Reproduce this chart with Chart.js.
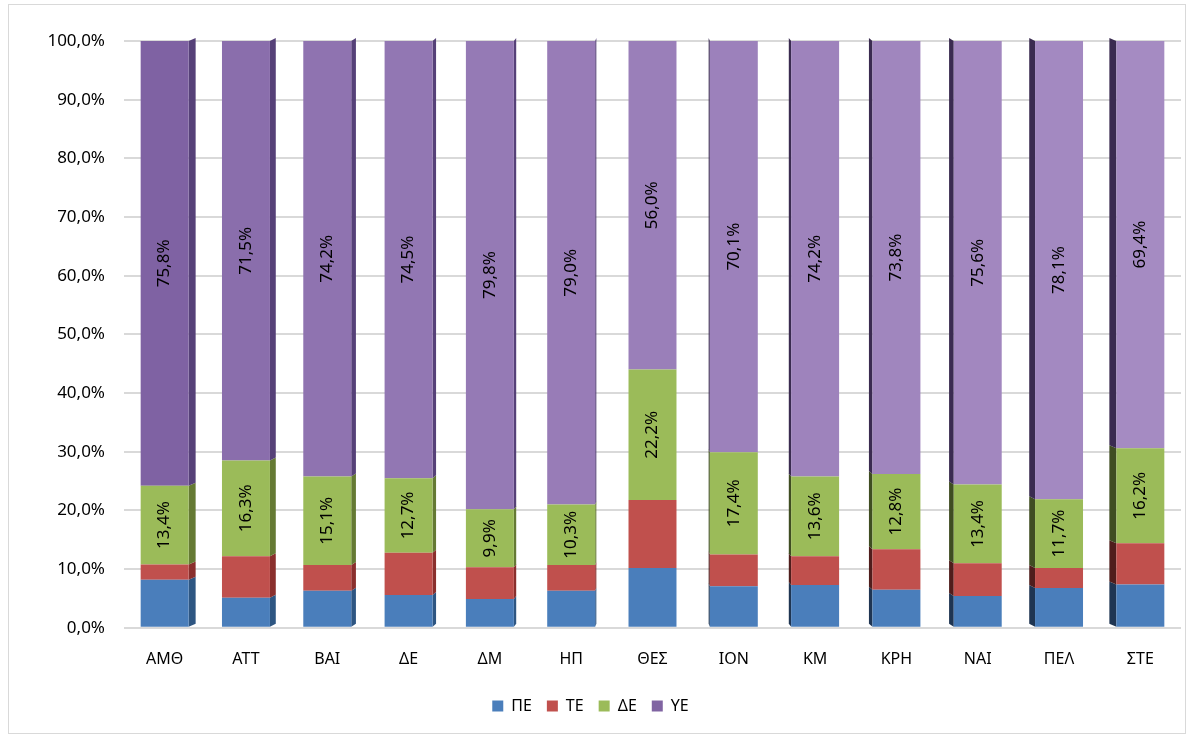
<!DOCTYPE html>
<html>
<head>
<meta charset="utf-8">
<script src="https://cdn.jsdelivr.net/npm/chart.js@4.4.1/dist/chart.umd.min.js"></script>
<style>
  html, body { margin: 0; padding: 0; background: #fff; }
  #wrap { position: relative; width: 1192px; height: 738px; }
  #frame { position: absolute; left: 8px; top: 4px; width: 1178px; height: 730px; border: 1px solid #d9d9d9; box-sizing: border-box; }
  canvas { position: absolute; left: 0; top: 0; }
</style>
</head>
<body>
<div id="wrap">
  <div id="frame"></div>
  <canvas id="myChart" width="1192" height="738"></canvas>
</div>
<script>
// categories (regions) and share of each staff category, in %
const categories = ['ΑΜΘ', 'ΑΤΤ', 'ΒΑΙ', 'ΔΕ', 'ΔΜ', 'ΗΠ', 'ΘΕΣ', 'ΙΟΝ', 'ΚΜ', 'ΚΡΗ', 'ΝΑΙ', 'ΠΕΛ', 'ΣΤΕ'];
const seriesNames = ['ΠΕ', 'ΤΕ', 'ΔΕ', 'ΥΕ'];
const pe = [8.2, 5.1, 6.3, 5.6, 4.9, 6.3, 10.2, 7.1, 7.3, 6.5, 5.4, 6.8, 7.4];
const te = [2.6, 7.1, 4.4, 7.2, 5.4, 4.4, 11.6, 5.4, 4.9, 6.9, 5.6, 3.4, 7.0];
const de = [13.4, 16.3, 15.1, 12.7, 9.9, 10.3, 22.2, 17.4, 13.6, 12.8, 13.4, 11.7, 16.2];
const ye = [75.8, 71.5, 74.2, 74.5, 79.8, 79.0, 56.0, 70.1, 74.2, 73.8, 75.6, 78.1, 69.4];
const yTicks = [0, 10, 20, 30, 40, 50, 60, 70, 80, 90, 100];

const FONT = "'Noto Sans', 'DejaVu Sans', sans-serif";
const fmt = v => v.toFixed(1).replace('.', ',') + '%';

// purple gets lighter towards the right, like the original
function purple(i) {
  const t = Math.sqrt(i / (categories.length - 1));
  const a = [127, 98, 163], b = [165, 139, 194];
  const c = a.map((v, k) => Math.round(v + (b[k] - v) * t));
  return 'rgb(' + c.join(',') + ')';
}

const sideLeft = ['#2e5682', '#8a2f2d', '#657a34', '#564178'];   // side on the right of a bar
const sideRight = ['#1f3552', '#4f1d1c', '#3f4d22', '#3a2b50'];  // side on the left of a bar

// fake 3d side faces
const sidePlugin = {
  id: 'sides',
  beforeDatasetsDraw(chart) {
    const ctx = chart.ctx;
    const mid = (categories.length - 1) / 2;
    chart.data.datasets.forEach((ds, di) => {
      const meta = chart.getDatasetMeta(di);
      meta.data.forEach((bar, i) => {
        const d = 7 * (mid - i) / mid;
        if (Math.abs(d) < 0.5) return;
        const half = bar.width / 2;
        const edge = d > 0 ? bar.x + half : bar.x - half;
        const top = Math.min(bar.y, bar.base), bot = Math.max(bar.y, bar.base);
        ctx.save();
        ctx.fillStyle = d > 0 ? sideLeft[di] : sideRight[di];
        ctx.beginPath();
        ctx.moveTo(edge, top);
        ctx.lineTo(edge + d, top - 3);
        ctx.lineTo(edge + d, bot - 3);
        ctx.lineTo(edge, bot);
        ctx.closePath();
        ctx.fill();
        ctx.restore();
      });
    });
  }
};

// rotated value labels for ΔΕ and ΥΕ
const labelPlugin = {
  id: 'vlabels',
  afterDatasetsDraw(chart) {
    const ctx = chart.ctx;
    [2, 3].forEach(di => {
      const meta = chart.getDatasetMeta(di);
      const vals = chart.data.datasets[di].data;
      meta.data.forEach((bar, i) => {
        const cy = (bar.y + bar.base) / 2;
        ctx.save();
        ctx.translate(bar.x, cy);
        ctx.rotate(-Math.PI / 2);
        ctx.font = '17px ' + FONT;
        ctx.fillStyle = '#000';
        ctx.textAlign = 'center';
        ctx.textBaseline = 'middle';
        ctx.fillText(fmt(vals[i]), 0, 0);
        ctx.restore();
      });
    });
  }
};

const ctx = document.getElementById('myChart').getContext('2d');
const myChart = new Chart(ctx, {
  type: 'bar',
  data: {
    labels: categories,
    datasets: [
      { label: seriesNames[0], data: pe, backgroundColor: '#4a7ebb' },
      { label: seriesNames[1], data: te, backgroundColor: '#c0504d' },
      { label: seriesNames[2], data: de, backgroundColor: '#9bbb59' },
      { label: seriesNames[3], data: ye, backgroundColor: c => purple(c.dataIndex) }
    ]
  },
  plugins: [sidePlugin, labelPlugin],
  options: {
    responsive: false,
    animation: false,
    layout: { padding: { top: 41, right: 11, left: 0, bottom: 14 } },
    datasets: { bar: { barPercentage: 0.59, categoryPercentage: 1 } },
    plugins: {
      tooltip: { enabled: false },
      legend: {
        position: 'bottom',
        labels: {
          boxWidth: 11, boxHeight: 11, padding: 15,
          color: '#000',
          font: { family: FONT, size: 16 },
          generateLabels: chart => seriesNames.map((n, i) => ({
            text: n,
            fillStyle: i === 3 ? '#8064a2' : chart.data.datasets[i].backgroundColor,
            strokeStyle: 'transparent', lineWidth: 0, datasetIndex: i
          }))
        }
      }
    },
    scales: {
      x: {
        stacked: true,
        grid: { display: false },
        border: { display: false },
        ticks: { color: '#000', font: { family: FONT, size: 16 }, padding: 14 }
      },
      y: {
        stacked: true,
        min: 0, max: 100,
        afterFit: s => { s.width = 124; },
        afterBuildTicks: s => { s.ticks = yTicks.map(v => ({ value: v })); },
        grid: { color: '#d9d9d9', lineWidth: 2, drawTicks: false },
        border: { display: false },
        ticks: { color: '#000', font: { family: FONT, size: 17 }, padding: 19, callback: v => fmt(v) }
      }
    }
  }
});
</script>
</body>
</html>
